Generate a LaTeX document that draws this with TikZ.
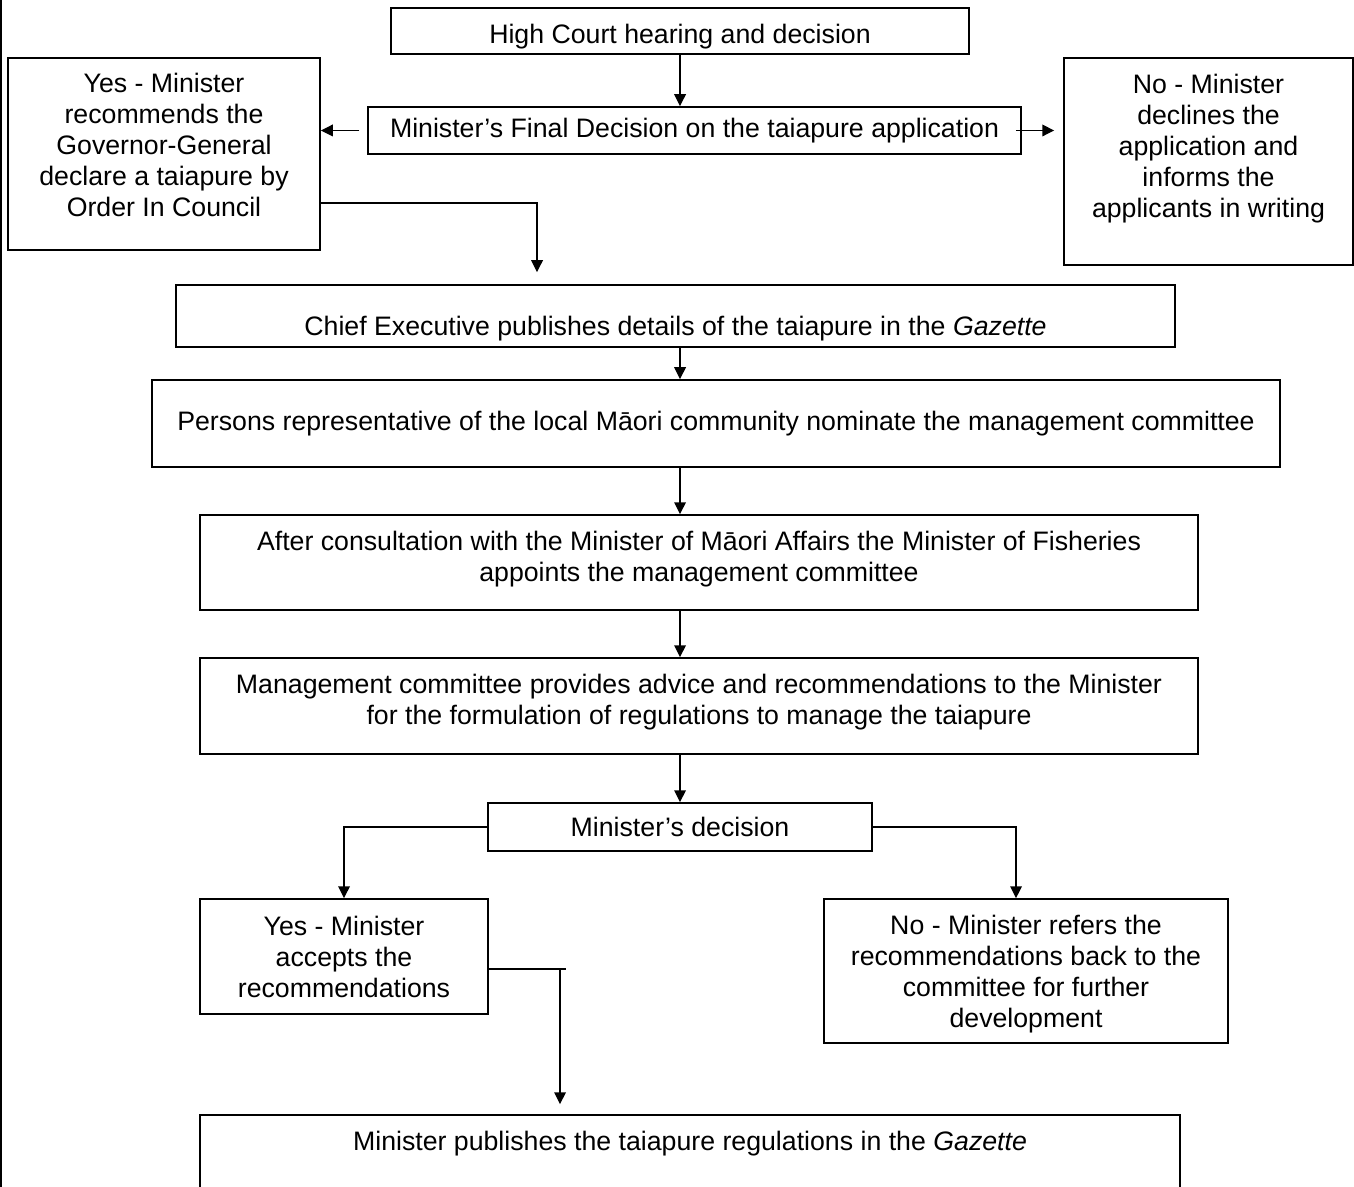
\documentclass[tikz,border=0pt]{standalone}
\usepackage{fontspec}
\setmainfont{Liberation Sans}
\usetikzlibrary{arrows.meta}

\begin{document}
\begin{tikzpicture}[x=0.5pt,y=-0.5pt,
        font=\fontsize{13.35}{15.5}\selectfont,
        caja/.style={draw,line width=0.75pt,align=center,inner sep=0pt},
        arriba/.style={text depth=#1},
        flecha/.style={-{Triangle[length=6pt,width=5.8pt]},line width=0.75pt}]

        % marco
        \useasboundingbox (0,0) rectangle (1354,1187);
        \draw[line width=0.6pt] (1,0) -- (1,1187);
        \coordinate (eje) at (680,0);

        % cajas de arriba
        \node[caja,minimum width=289pt,minimum height=23pt,text height=15pt,text depth=2.5pt] (court) at (680,31) {High Court hearing and decision};
        \node[caja,minimum width=326.5pt,minimum height=23.5pt] (final) at (694.5,130.5) {Minister’s Final Decision on the taiapure application};
        \node[caja,minimum width=156pt,minimum height=96pt,arriba=9pt] (yes) at (164,154) {Yes - Minister\\recommends the\\Governor-General\\declare a taiapure by\\Order In Council};
        \node[caja,minimum width=144.5pt,minimum height=103.5pt,arriba=16pt] (no) at (1208.5,161.5) {No - Minister\\declines the\\application and\\informs the\\applicants in writing};

        % cadena central
        \node[caja,minimum width=499.5pt,minimum height=31pt,text height=22.5pt,text depth=2.5pt] (chief) at (675.5,316) {Chief Executive publishes details of the taiapure in the \textit{Gazette}};
        \node[caja,minimum width=564pt,minimum height=43.5pt] (persons) at (716,423.5) {Persons representative of the local Māori community nominate the management committee};
        \node[caja,minimum width=499pt,minimum height=47.5pt,arriba=6.5pt] (consult) at (699,562.5) {After consultation with the Minister of Māori Affairs the Minister of Fisheries\\appoints the management committee};
        \node[caja,minimum width=499pt,minimum height=48pt,arriba=7pt] (mgmt) at (699,706) {Management committee provides advice and recommendations to the Minister\\for the formulation of regulations to manage the taiapure};
        \node[caja,minimum width=192pt,minimum height=24pt] (decision) at (680,827) {Minister’s decision};

        % cajas de abajo
        \node[caja,minimum width=144pt,minimum height=57.5pt] (accepts) at (344,956.5) {Yes - Minister\\accepts the\\recommendations};
        \node[caja,minimum width=202pt,minimum height=72pt,arriba=0pt] (refers) at (1026,971) {No - Minister refers the\\recommendations back to the\\committee for further\\development};
        \node[caja,minimum width=490pt,minimum height=40pt,text height=9.5pt,text depth=14.5pt] (pub) at (690,1155) {Minister publishes the taiapure regulations in the \textit{Gazette}};

        % flechas
        \foreach \a/\b in {court/final,chief/persons,persons/consult,consult/mgmt,mgmt/decision}
            \draw[flecha] (\a.south -| eje) -- (\b.north -| eje);
        \draw[flecha,shorten <=4pt] (final.west) -- (final.west -| yes.east);
        \draw[flecha,shorten <=-3pt,shorten >=4.5pt] (final.east) -- (final.east -| no.west);
        \coordinate (c1) at (537,203);
        \draw[flecha,shorten >=6pt] (yes.east |- c1) -- (c1) -- (c1 |- chief.north);
        \draw[flecha] (decision.west) -| (accepts.north);
        \draw[flecha] (decision.east) -| ([xshift=-5pt]refers.north);
        \coordinate (c2) at (560,969);
        \draw[line width=0.75pt] (accepts.east |- c2) -- ([xshift=3pt]c2);
        \draw[flecha,shorten >=5pt] (c2) -- (c2 |- pub.north);
    \end{tikzpicture}
\end{document}
